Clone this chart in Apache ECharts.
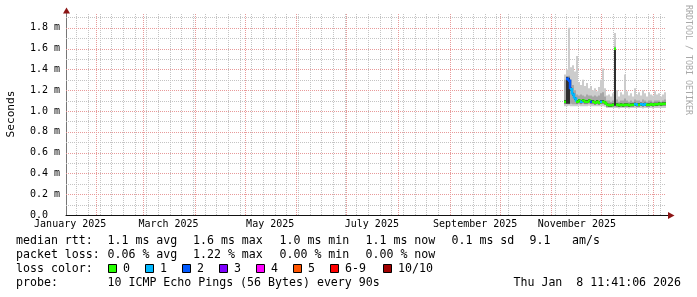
<!DOCTYPE html>
<html><head><meta charset="utf-8">
<script src="https://cdn.jsdelivr.net/npm/echarts@6/dist/echarts.min.js"></script>
<style>html,body{margin:0;padding:0;background:#fff}#c{width:697px;height:297px}</style>
</head><body><div id="c"></div>
<script>
// ---------------- data ----------------
const axisStart = Date.UTC(2025, 0, 13, 11, 41, 6);
const axisEnd = Date.UTC(2026, 0, 8, 11, 41, 6);
const monthLabels = ['January 2025', 'March 2025', 'May 2025', 'July 2025', 'September 2025', 'November 2025'];
const monthLabelDates = ['2025-01-16', '2025-03-16', '2025-05-16', '2025-07-16', '2025-09-16', '2025-11-16'];
const yTicks = [0, 0.2, 0.4, 0.6, 0.8, 1.0, 1.2, 1.4, 1.6, 1.8];
const yMinorGrid = [0.1, 0.3, 0.5, 0.7, 0.9, 1.1, 1.3, 1.5, 1.7, 1.9];
const yMax = 1.933;

const sampleStart = Date.UTC(2025, 10, 8, 12, 0, 0);
const sampleStepDays = 1.2;
// median rtt (ms)
const median = [1.09, 1.31, 1.29, 1.21, 1.16, 1.12, 1.09, 1.10, 1.09, 1.10,
  1.09, 1.09, 1.10, 1.09, 1.09, 1.08, 1.09, 1.08, 1.09, 1.09,
  1.08, 1.06, 1.055, 1.055, 1.06, 1.60, 1.06, 1.055, 1.06, 1.055,
  1.06, 1.06, 1.055, 1.06, 1.06, 1.065, 1.06, 1.06, 1.065, 1.06,
  1.065, 1.06, 1.06, 1.065, 1.06, 1.065, 1.065, 1.07, 1.065, 1.07, 1.07];
// loss colour class per sample (index into lossColors)
const loss = [0, 2, 2, 1, 1, 1, 0, 0, 1, 0,
  0, 0, 0, 2, 0, 0, 0, 0, 1, 0,
  0, 0, 0, 0, 0, 0, 0, 0, 0, 0,
  0, 0, 0, 0, 0, 1, 1, 0, 1, 1,
  1, 0, 0, 0, 0, 0, 0, 0, 0, 0, 0];
// smoke: min ping, lower mid band, dark core low/high, upper mid band, max ping (ms)
const smokeMin = [1.045, 1.045, 1.05, 1.045, 1.045, 1.045, 1.045, 1.05, 1.045, 1.045,
  1.045, 1.045, 1.05, 1.045, 1.045, 1.045, 1.045, 1.045, 1.045, 1.045,
  1.04, 1.03, 1.03, 1.03, 1.03, 1.03, 1.03, 1.025, 1.03, 1.03,
  1.03, 1.03, 1.025, 1.03, 1.03, 1.03, 1.03, 1.03, 1.03, 1.025,
  1.03, 1.03, 1.03, 1.03, 1.025, 1.03, 1.03, 1.03, 1.03, 1.03, 1.03];
const smokeLowMid = [1.065, 1.065, 1.065, 1.07, 1.065, 1.065, 1.065, 1.07, 1.065, 1.07,
  1.065, 1.065, 1.07, 1.065, 1.065, 1.06, 1.065, 1.06, 1.065, 1.065,
  1.06, 1.04, 1.04, 1.04, 1.04, 1.04, 1.04, 1.04, 1.04, 1.04,
  1.04, 1.04, 1.04, 1.04, 1.04, 1.045, 1.04, 1.04, 1.045, 1.04,
  1.045, 1.04, 1.04, 1.045, 1.04, 1.045, 1.045, 1.05, 1.045, 1.05, 1.05];
const coreLow = [1.075, 1.07, 1.07, 1.195, 1.145, 1.105, 1.075, 1.085, 1.075, 1.085,
  1.075, 1.075, 1.085, 1.075, 1.075, 1.065, 1.075, 1.065, 1.075, 1.075,
  1.065, 1.045, 1.04, 1.04, 1.045, 1.05, 1.045, 1.04, 1.045, 1.04,
  1.045, 1.045, 1.04, 1.045, 1.045, 1.05, 1.045, 1.045, 1.05, 1.045,
  1.05, 1.045, 1.045, 1.05, 1.045, 1.05, 1.05, 1.055, 1.05, 1.055, 1.055];
const coreHigh = [1.105, 1.33, 1.32, 1.225, 1.175, 1.135, 1.105, 1.115, 1.105, 1.115,
  1.105, 1.105, 1.115, 1.105, 1.105, 1.095, 1.105, 1.095, 1.105, 1.105,
  1.095, 1.075, 1.07, 1.07, 1.075, 1.60, 1.075, 1.07, 1.075, 1.07,
  1.075, 1.075, 1.07, 1.075, 1.075, 1.08, 1.075, 1.075, 1.08, 1.075,
  1.08, 1.075, 1.075, 1.08, 1.075, 1.08, 1.08, 1.085, 1.08, 1.085, 1.085];
const smokeHighMid = [1.30, 1.33, 1.34, 1.30, 1.25, 1.20, 1.16, 1.15, 1.16, 1.15,
  1.14, 1.16, 1.15, 1.15, 1.14, 1.15, 1.14, 1.15, 1.17, 1.18,
  1.14, 1.10, 1.10, 1.09, 1.10, 1.62, 1.11, 1.09, 1.10, 1.10,
  1.12, 1.10, 1.09, 1.10, 1.09, 1.11, 1.10, 1.10, 1.09, 1.11,
  1.10, 1.09, 1.10, 1.10, 1.09, 1.10, 1.10, 1.10, 1.09, 1.10, 1.11];
const smokeMax = [1.35, 1.40, 1.80, 1.42, 1.44, 1.38, 1.53, 1.28, 1.25, 1.30,
  1.24, 1.27, 1.22, 1.24, 1.20, 1.22, 1.19, 1.23, 1.30, 1.41,
  1.22, 1.15, 1.16, 1.14, 1.17, 1.75, 1.20, 1.14, 1.18, 1.16,
  1.35, 1.19, 1.15, 1.17, 1.14, 1.22, 1.16, 1.18, 1.15, 1.20,
  1.17, 1.14, 1.18, 1.16, 1.15, 1.19, 1.16, 1.17, 1.14, 1.16, 1.18];

const lossLabels = ['0', '1', '2', '3', '4', '5', '6-9', '10/10'];
const lossColors = ['#26ff00', '#00b8ff', '#0059ff', '#7e00ff', '#ff00ff', '#ff5500', '#ff0000', '#a10000'];
const statsRtt = ['median rtt:', '1.1 ms avg', '1.6 ms max', '1.0 ms min', '1.1 ms now', '0.1 ms sd', '9.1', 'am/s'];
const statsLoss = ['packet loss:', '0.06 % avg', '1.22 % max', '0.00 % min', '0.00 % now'];
const lossTitle = 'loss color:';
const probeTitle = 'probe:';
const probeText = '10 ICMP Echo Pings (56 Bytes) every 90s';
const stampText = 'Thu Jan  8 11:41:06 2026';
const yTitle = 'Seconds';
const watermark = 'RRDTOOL / TOBI OETIKER';

// ---------------- chart ----------------
const DAY = 86400000;
const stepMs = sampleStepDays * DAY;
const MONO = 'DejaVu Sans Mono';
const times = median.map((_, i) => sampleStart + i * stepMs);
const smokeData = times.map((t, i) => [t, smokeMin[i], smokeLowMid[i], coreLow[i], coreHigh[i], smokeHighMid[i], smokeMax[i]]);
const medData = times.map((t, i) => [t, median[i], loss[i], i + 1 < median.length ? median[i + 1] : null]);
const labelTs = monthLabelDates.map(d => Date.parse(d + 'T00:00:00Z'));

// grid lines: [x, y, isVertical, isMajor]; minor first so major draws on top
const weekLines = [];
for (let t = Date.UTC(2025, 0, 20); t < axisEnd; t += 7 * DAY) weekLines.push(t);
const monthLines = [];
for (let m = 1; m <= 12; m++) monthLines.push(Date.UTC(2025, m, 1));
const gridData = [].concat(
  weekLines.map(t => [t, 0, 1, 0]),
  yMinorGrid.map(v => [axisStart, v, 0, 0]),
  monthLines.map(t => [t, 0, 1, 1]),
  yTicks.slice(1).map(v => [axisStart, v, 0, 1])
);
const MINOR = '#c4c4c4', MAJOR = '#e89a9a';

function band(api, cs, t0, t1, lo, hi, color) {
  const a = api.coord([t0, hi]), b = api.coord([t1, lo]);
  const x0 = Math.round(a[0]), x1 = Math.round(b[0]);
  const r = echarts.graphic.clipRectByRect({x: x0, y: a[1], width: x1 - x0, height: b[1] - a[1]}, cs);
  return r ? {type: 'rect', shape: r, style: {fill: color}} : null;
}

const g = [];
function txt(x, y, s, extra) {
  g.push({type: 'text', x: x, y: y, silent: true, z: 100,
    style: Object.assign({text: s, fontFamily: MONO, fontSize: 11.6, fill: '#000', verticalAlign: 'middle', align: 'left'}, extra || {})});
}
const statX = [16, 107.5, 193, 279.5, 365.5, 451.5, 529.5, 572];
statsRtt.forEach((s, i) => txt(statX[i], 241, s));
statsLoss.forEach((s, i) => txt(statX[i], 255, s));
txt(16, 269, lossTitle);
const boxX = [108, 145, 182, 219, 256, 293, 330, 383];
lossLabels.forEach((s, i) => {
  g.push({type: 'rect', silent: true, z: 100, shape: {x: boxX[i] + 0.5, y: 264.5, width: 8, height: 8},
    style: {fill: lossColors[i], stroke: '#000', lineWidth: 1}});
  txt(boxX[i] + 15, 269, s);
});
txt(16, 283, probeTitle);
txt(107.5, 283, probeText);
txt(681, 283, stampText, {align: 'right'});
g.push({type: 'text', x: 11, y: 114, rotation: Math.PI / 2, silent: true,
  style: {text: yTitle, fontFamily: MONO, fontSize: 11.2, fill: '#000', align: 'center', verticalAlign: 'middle'}});
g.push({type: 'text', x: 688, y: 5, rotation: -Math.PI / 2, silent: true,
  style: {text: watermark, fontFamily: MONO, fontSize: 8.3, fill: '#a8a8a8', align: 'left', verticalAlign: 'middle'}});
const ARROW = '#8c1515';
g.push({type: 'line', silent: true, z: 50, shape: {x1: 66.5, y1: 14, x2: 66.5, y2: 10}, style: {stroke: '#777', lineWidth: 1}});
g.push({type: 'polygon', silent: true, z: 51, shape: {points: [[63, 13.5], [70, 13.5], [66.5, 7.5]]}, style: {fill: ARROW}});
g.push({type: 'line', silent: true, z: 50, shape: {x1: 666, y1: 215.5, x2: 669, y2: 215.5}, style: {stroke: '#111', lineWidth: 1}});
g.push({type: 'polygon', silent: true, z: 51, shape: {points: [[668, 212], [668, 219], [674.5, 215.5]]}, style: {fill: ARROW}});

const option = {
  animation: false,
  backgroundColor: '#ffffff',
  grid: {left: 66, top: 14, width: 600, height: 201, containLabel: false},
  xAxis: {
    type: 'value', min: axisStart, max: axisEnd, scale: true,
    axisLine: {show: true, lineStyle: {color: '#111', width: 1}},
    axisTick: {show: false},
    splitLine: {show: false},
    axisLabel: {
      customValues: labelTs, margin: 4, fontFamily: MONO, fontSize: 10, color: '#000',
      hideOverlap: false,
      formatter: function (v) {
        let best = 0;
        labelTs.forEach((t, i) => { if (Math.abs(t - v) < Math.abs(labelTs[best] - v)) best = i; });
        return monthLabels[best];
      }
    }
  },
  yAxis: {
    type: 'value', min: 0, max: yMax,
    axisLine: {show: true, lineStyle: {color: '#777', width: 1}},
    axisTick: {show: false},
    splitLine: {show: false},
    axisLabel: {
      customValues: yTicks, margin: 36, align: 'left', fontFamily: MONO, fontSize: 10, color: '#000',
      formatter: v => (Math.abs(v) < 1e-9 ? '0.0' : v.toFixed(1) + ' m')
    }
  },
  series: [
    {
      type: 'custom', z: 1, silent: true, data: gridData,
      renderItem: function (params, api) {
        const cs = params.coordSys;
        const p = api.coord([api.value(0), api.value(1)]);
        const col = api.value(3) ? MAJOR : MINOR;
        let shape;
        if (api.value(2)) {
          const x = Math.floor(p[0]) + 0.5;
          shape = {x1: x, y1: cs.y, x2: x, y2: cs.y + cs.height};
        } else {
          const y = Math.round(p[1]) + 0.5;
          shape = {x1: cs.x, y1: y, x2: cs.x + cs.width, y2: y};
        }
        return {type: 'line', shape: shape, style: {stroke: col, lineWidth: 1, lineDash: [1, 1]}};
      }
    },
    {
      type: 'custom', z: 2, silent: true, data: smokeData,
      renderItem: function (params, api) {
        const cs = {x: params.coordSys.x, y: params.coordSys.y, width: params.coordSys.width, height: params.coordSys.height};
        const t0 = api.value(0), t1 = t0 + stepMs;
        const kids = [
          band(api, cs, t0, t1, api.value(1), api.value(6), '#cccccc'),
          band(api, cs, t0, t1, api.value(2), api.value(5), '#a6a6a6'),
          band(api, cs, t0, t1, api.value(3), api.value(4), '#2e2e2e')
        ].filter(Boolean);
        return {type: 'group', children: kids};
      }
    },
    {
      type: 'custom', z: 3, silent: true, data: medData,
      renderItem: function (params, api) {
        const t0 = api.value(0), t1 = Math.min(t0 + stepMs, axisEnd);
        const m = api.value(1), lc = lossColors[api.value(2)], nx = api.value(3);
        const a = api.coord([t0, m]), b = api.coord([t1, m]);
        const pts = [[Math.round(a[0]), a[1]], [Math.round(b[0]), b[1]]];
        if (!isNaN(nx) && Math.abs(nx - m) < 0.1) pts.push([Math.round(b[0]), api.coord([t1, nx])[1]]);
        return {type: 'polyline', shape: {points: pts}, style: {stroke: lc, lineWidth: 2.5, fill: null}};
      }
    }
  ],
  graphic: g
};
const chart = echarts.init(document.getElementById('c'), null, {renderer: 'canvas', width: 697, height: 297});
chart.setOption(option);
</script>
</body></html>
